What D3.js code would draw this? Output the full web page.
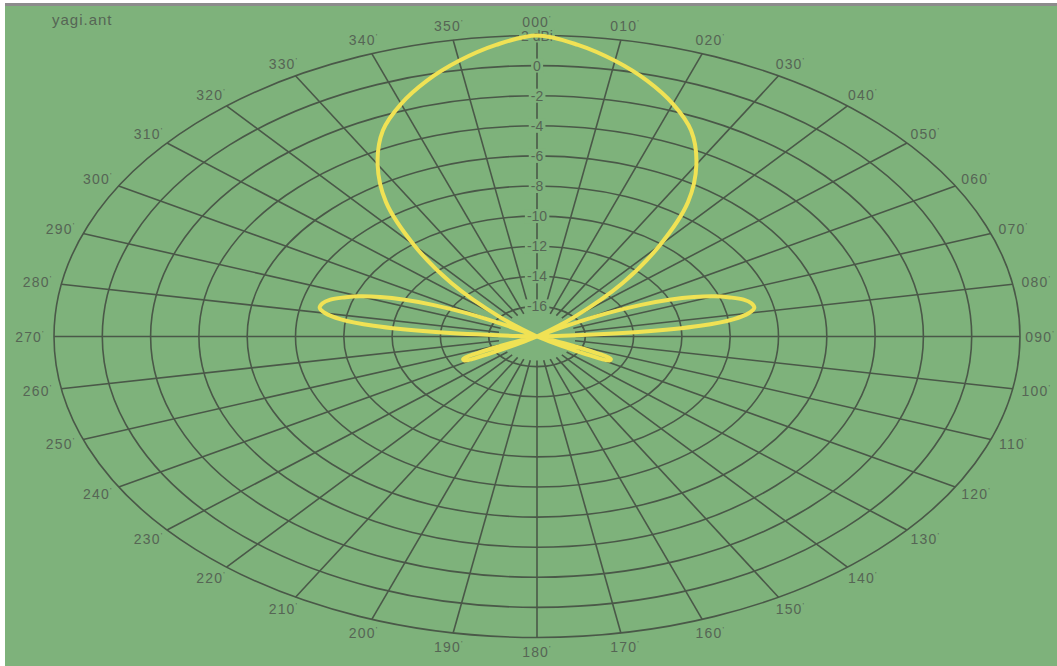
<!DOCTYPE html>
<html>
<head>
<meta charset="utf-8">
<script src="https://cdn.jsdelivr.net/npm/d3@7/dist/d3.min.js"></script>
<style>
  html, body { margin: 0; padding: 0; background: #ffffff; }
  svg { display: block; }
  text { font-family: "Liberation Sans", Arial, sans-serif; }
</style>
</head>
<body>
<svg id="chart" width="1057" height="666"></svg>
<script>
// ---- data -------------------------------------------------------------
const title = "yagi.ant";
// gain rings (dBi), outermost first
const ringLevels = [2, 0, -2, -4, -6, -8, -10, -12, -14, -16];
const ringLabels = ["2 dBi", "0", "-2", "-4", "-6", "-8", "-10", "-12", "-14", "-16"];
// compass bearings of the spokes
const bearings = d3.range(0, 360, 10);
const bearingLabels = bearings.map(b => String(b).padStart(3, "0"));
// far-field pattern: bearing (deg) and gain (dBi)
const patternAngles = [
  0, 5, 10, 15, 20, 25, 30, 35, 40, 45, 50, 54, 57,
  60, 62, 64, 66, 68, 70, 72, 74, 76, 78, 80, 82, 84, 86, 88, 91,
  100, 110, 112, 114, 116, 118, 120, 122, 125, 150, 180,
  210, 235, 238, 240, 242, 244, 246, 248, 250, 260,
  269, 272, 274, 276, 278, 280, 282, 284, 286, 288, 290, 292, 294, 296, 298, 300,
  303, 306, 310, 315, 320, 325, 330, 335, 340, 345, 350, 355
];
const patternGain = [
  2.2, 1.45, 0.6, -0.4, -1.55, -2.9, -4.8, -7.1, -10.1, -13.0, -16.0, -18.6, -21,
  -16.6, -14.7, -13.2, -12.0, -11.0, -10.2, -9.6, -9.1, -8.85, -8.8, -9.1, -9.8, -11.2, -13.8, -17.2, -22,
  -30, -19, -16.8, -15.3, -14.6, -14.6, -15.6, -17.4, -21, -30, -30,
  -30, -21, -17.4, -15.6, -14.6, -14.6, -15.3, -16.8, -19, -30,
  -22, -17.2, -13.8, -11.2, -9.8, -9.1, -8.8, -8.85, -9.1, -9.6, -10.2, -11.0, -12.0, -13.2, -14.7, -16.6,
  -21, -18.6, -16.0, -13.0, -10.1, -7.1, -4.8, -2.9, -1.55, -0.4, 0.6, 1.45
];

// ---- layout -----------------------------------------------------------
const W = 1057, H = 666;
const CX = 537, CY = 336.5;      // plot centre
const RX = 483, RY = 301;        // outer ring half-axes
const BG = "#7eb27b", GRID = "#4a5848", LABEL = "#566555", TRACE = "#f0e254";

const svg = d3.select("#chart");

// gain -> fraction of outer radius
const rScale = d3.scaleLinear().domain([-18, 2]).range([0, 1]).clamp(true);

function proj(deg, frac) {
  const a = deg * Math.PI / 180;
  return [CX + RX * frac * Math.sin(a), CY - RY * frac * Math.cos(a)];
}

// frame
svg.append("rect").attr("x", 0).attr("y", 0).attr("width", W).attr("height", H).attr("fill", "#ffffff");
svg.append("rect").attr("x", 5).attr("y", 6).attr("width", W - 5).attr("height", H - 6).attr("fill", BG);
svg.append("rect").attr("x", 5).attr("y", 3).attr("width", W - 5).attr("height", 3).attr("fill", "#8c8c8c");

// title
svg.append("text").attr("x", 52).attr("y", 25)
  .attr("font-size", 15).attr("letter-spacing", 1).attr("fill", LABEL).text(title);

const grid = svg.append("g").attr("fill", "none").attr("stroke", GRID).attr("stroke-width", 1.6);

// rings
grid.selectAll("ellipse").data(ringLevels).join("ellipse")
  .attr("cx", CX).attr("cy", CY)
  .attr("rx", d => RX * rScale(d))
  .attr("ry", d => RY * rScale(d));

// spokes
grid.selectAll("line").data(bearings).join("line")
  .attr("x1", d => proj(d, 0.08)[0]).attr("y1", d => proj(d, 0.08)[1])
  .attr("x2", d => proj(d, 1)[0]).attr("y2", d => proj(d, 1)[1]);

// bearing labels, kept inside the frame
const bl = svg.append("g").attr("font-size", 14).attr("fill", LABEL)
  .attr("text-anchor", "middle").attr("letter-spacing", 1.2);
bearings.forEach((b, i) => {
  const [px, py] = proj(b, 1);
  const a = b * Math.PI / 180;
  let x = px + 24 * Math.sin(a);
  const t = bl.append("text")
    .attr("x", x)
    .attr("y", py - 14 * Math.cos(a))
    .attr("dominant-baseline", "central");
  t.append("tspan").text(bearingLabels[i]);
  t.append("tspan").attr("font-size", 8).attr("dy", -4).text("'");
  const bb = t.node().getBBox();
  if (bb.x + bb.width > W - 2) t.attr("x", x - (bb.x + bb.width - (W - 2)));
  if (bb.x < 7) t.attr("x", x + (7 - bb.x));
});

// gain labels along the 000 spoke, with the grid cut out behind them
const gl = svg.append("g");
ringLevels.forEach((lv, i) => {
  const [px, py] = proj(0, rScale(lv));
  const g = gl.append("g");
  const t = g.append("text").attr("x", px).attr("y", py)
    .attr("text-anchor", "middle").attr("dominant-baseline", "central")
    .attr("font-size", 14).attr("fill", LABEL).text(ringLabels[i]);
  const bb = t.node().getBBox();
  g.insert("rect", "text")
    .attr("x", bb.x - 2).attr("y", bb.y + 1).attr("width", bb.width + 4).attr("height", bb.height - 2)
    .attr("fill", BG);
});

// pattern trace
const pts = patternAngles.map((a, i) => proj(a, rScale(patternGain[i])));
const line = d3.line().curve(d3.curveCatmullRomClosed.alpha(0.5));
svg.append("path").attr("d", line(pts))
  .attr("fill", "none").attr("stroke", TRACE).attr("stroke-width", 4)
  .attr("stroke-linejoin", "round");
</script>
</body>
</html>
